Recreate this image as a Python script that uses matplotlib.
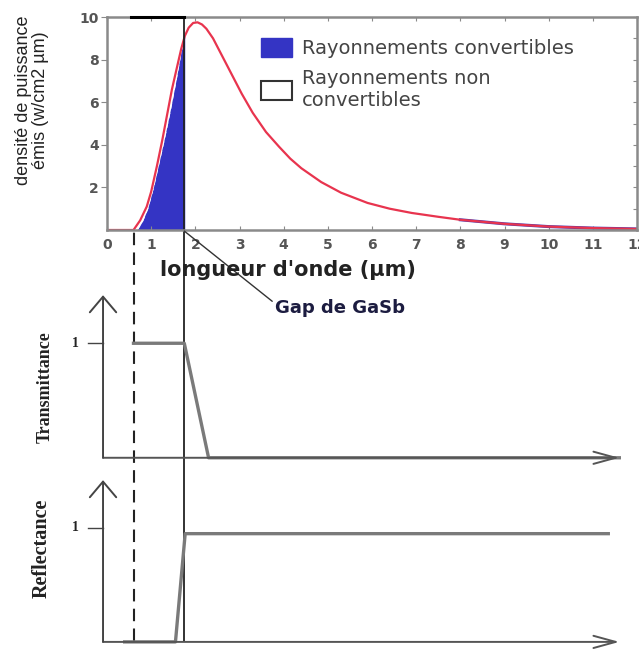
import matplotlib.pyplot as plt
from matplotlib.patches import Patch

# emitted spectrum
wavelength = [0.0, 0.6, 0.75, 0.9, 1.0, 1.13, 1.25, 1.36, 1.47, 1.58, 1.68, 1.76,
              1.85, 1.95, 2.05, 2.15, 2.25, 2.4, 2.6, 2.85, 3.05, 3.3, 3.6, 3.9,
              4.15, 4.4, 4.85, 5.3, 5.9, 6.4, 6.9, 7.5, 8.0, 9.0, 10.0, 11.0, 12.0]
power = [0.0, 0.0, 0.45, 1.1, 1.8, 3.0, 4.2, 5.4, 6.6, 7.6, 8.5, 9.1,
         9.5, 9.72, 9.75, 9.65, 9.45, 9.0, 8.2, 7.2, 6.4, 5.5, 4.6, 3.9,
         3.35, 2.9, 2.25, 1.75, 1.27, 1.0, 0.8, 0.62, 0.48, 0.29, 0.16, 0.09, 0.05]

# convertible part (blue area)
conv_wl = [0.68, 0.8, 0.92, 1.05, 1.17, 1.3, 1.43, 1.56, 1.68, 1.76]
conv_p = [0.0, 0.4, 1.0, 2.0, 3.1, 4.3, 5.6, 7.0, 8.4, 9.2]

# filter schematics
trans_wl = [0.6, 1.75, 2.3, 11.6]
trans = [1, 1, 0, 0]
refl_wl = [0.4, 1.55, 1.77, 11.35]
refl = [0, 0, 0.95, 0.95]

gap = 1.75
cutoff = 0.6
x_start, x_end = -0.09, 11.6

W, H = 639, 654
fig = plt.figure(figsize=(W / 100, H / 100), dpi=100)

def box(l, t, r, b):
    return [l / W, 1 - b / H, (r - l) / W, (b - t) / H]

ax = fig.add_axes(box(107, 17, 637, 230))
ax.set_xlim(0, 12)
ax.set_ylim(0, 10)

ax.fill_between(conv_wl, conv_p, color='#3434c4', lw=0)
ax.plot(conv_wl, conv_p, color='white', lw=1, ls=(0, (4, 3)))
ax.plot(wavelength[-5:], power[-5:], color='#4a3ab0', lw=2.2)
ax.plot(wavelength, power, color='#e8344e', lw=1.6)
ax.plot([0.55, gap], [10, 10], color='black', lw=2.2, clip_on=False, zorder=5)

for s in ax.spines.values():
    s.set_color('#8a8a8a')
    s.set_linewidth(1.8)
ax.set_xticks(range(13))
ax.set_yticks([2, 4, 6, 8, 10])
ax.tick_params(axis='x', direction='in', length=3, color='#8a8a8a', top=True,
               labelsize=10, labelcolor='#555555', pad=6)
ax.tick_params(axis='y', direction='out', length=4, color='#8a8a8a',
               labelsize=10, labelcolor='#555555', pad=2)
for lab in ax.get_xticklabels() + ax.get_yticklabels():
    lab.set_fontweight('bold')

# right side small ticks
axr = ax.twinx()
axr.set_ylim(0, 10)
axr.set_yticks(range(1, 11))
axr.tick_params(axis='y', direction='in', length=3, color='#8a8a8a', labelright=False)
for s in axr.spines.values():
    s.set_visible(False)

handles = [Patch(facecolor='#3434c4', edgecolor='#3434c4'),
           Patch(facecolor='white', edgecolor='#333333', lw=1.5)]
ax.legend(handles, ['Rayonnements convertibles', 'Rayonnements non\nconvertibles'],
          loc='upper left', bbox_to_anchor=(0.29, 0.9), frameon=False,
          prop={'family': 'DejaVu Sans', 'size': 14}, labelcolor='#444444',
          handlelength=1.6, handleheight=1.1, handletextpad=0.5,
          labelspacing=0.55, borderpad=0, borderaxespad=0)

fig.text(32 / W, 1 - 100 / H, 'densité de puissance\némis (w/cm2 µm)',
         rotation=90, ha='center', va='center', fontsize=13,
         family='Liberation Sans', color='#222222', linespacing=1.05)
fig.text(288 / W, 1 - 270 / H, "longueur d'onde (µm)", ha='center', va='center',
         fontsize=15, fontweight='bold', color='#222222')

# vertical markers through all panels
ax.axvline(gap, ymin=-1.93, ymax=1, color='#222222', lw=1.3, clip_on=False)
ax.axvline(cutoff, ymin=-1.93, ymax=0, color='#222222', lw=1.5,
           ls=(0, (6, 3.5)), clip_on=False)

ax.annotate('Gap de GaSb', xy=(gap, -0.05), xytext=(275 / W, 1 - 308 / H),
            textcoords='figure fraction', ha='left', va='center',
            fontsize=13, fontweight='bold', color='#1c1c40',
            annotation_clip=False,
            arrowprops=dict(arrowstyle='-', color='#333333', lw=1,
                            relpos=(0, 0.75), shrinkA=0, shrinkB=0))


def schematic(axs, xs, ys, label, lab_x, lab_y, lab_size):
    axs.set_xlim(0, 12)
    axs.set_ylim(-0.05, 1.5)
    axs.axis('off')
    axs.annotate('', xy=(x_end, 0), xytext=(x_start, 0),
                 arrowprops=dict(arrowstyle='->,head_width=0.22,head_length=0.8',
                                 color='#555555', lw=1.4, shrinkA=0, shrinkB=0,
                                 mutation_scale=20), annotation_clip=False)
    axs.annotate('', xy=(x_start, 1.42), xytext=(x_start, 0),
                 arrowprops=dict(arrowstyle='->,head_width=0.38,head_length=0.45',
                                 color='#444444', lw=1.4, shrinkA=0, shrinkB=0,
                                 mutation_scale=25), annotation_clip=False)
    axs.plot([-0.43, x_start], [1, 1], color='#444444', lw=1, clip_on=False)
    axs.text(-0.72, 1, '1', ha='center', va='center', fontsize=10,
             fontweight='bold', family='Liberation Serif', color='#222222')
    axs.plot(xs, ys, color='#7a7a7a', lw=2.4, clip_on=False)
    fig.text(lab_x / W, 1 - lab_y / H, label, rotation=90, ha='center',
             va='center', fontsize=lab_size, fontweight='bold',
             family='Liberation Serif', color='#222222')


ax_t = fig.add_axes(box(107, 286, 637, 463.5))
schematic(ax_t, trans_wl, trans, 'Transmittance', 45, 387, 13)

ax_r = fig.add_axes(box(107, 471, 637, 647.6))
schematic(ax_r, refl_wl, refl, 'Reflectance', 42, 548, 14.5)

fig.savefig('out.png', dpi=100)
